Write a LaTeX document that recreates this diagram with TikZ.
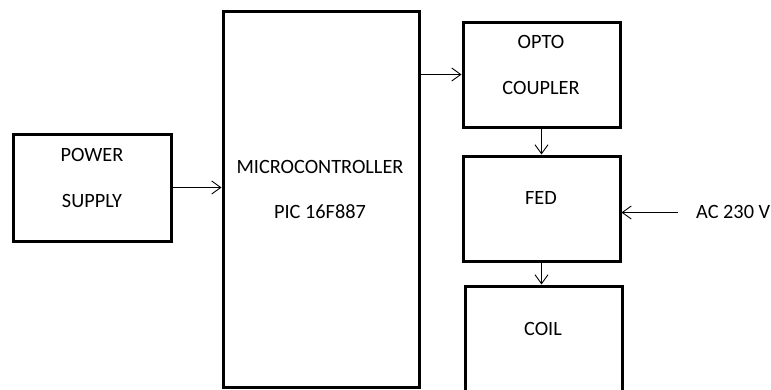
\documentclass[tikz,border=0pt]{standalone}
\usepackage{fontspec}
\setmainfont{Carlito}
\usetikzlibrary{arrows.meta}
\begin{document}
\begin{tikzpicture}[x=1pt,y=-1pt,
  box/.style={draw, line width=3pt, inner sep=0pt},
  lbl/.style={font=\fontsize{20.3}{24}\selectfont, inner sep=0pt},
  conn/.style={line width=0.9pt, -{Straight Barb[length=9pt,width=13pt,line width=0.9pt]}}]
\useasboundingbox (0,0) rectangle (771,389);
\clip (0,0) rectangle (771,389);
% boxes
\node[box, minimum width=158pt, minimum height=107pt] (ps) at (92,187.5) {};
\node[box, minimum width=196pt, minimum height=376pt] (micro) at (321,199.5) {};
\node[box, minimum width=157pt, minimum height=105pt] (opto) at (541.5,74.5) {};
\node[box, minimum width=157pt, minimum height=105pt] (fed) at (541.5,208.5) {};
\node[box, minimum width=157pt, minimum height=108pt] (coil) at (543.5,340) {};
% texts
\node[lbl] (pst1) at (92,155) {POWER};
\node[lbl] (pst2) at (92,201) {SUPPLY};
\node[lbl] (mt1) at (320,167) {MICROCONTROLLER};
\node[lbl] (mt2) at (320,212) {PIC 16F887};
\node[lbl] (ot1) at (541,42) {OPTO};
\node[lbl] (ot2) at (541,88) {COUPLER};
\node[lbl] (ft) at (541,198) {FED};
\node[lbl] (ct) at (543,329) {COIL};
\node[lbl, anchor=west] (ac) at (696,212) {AC 230 V};
\coordinate (acs) at (678,212.5);
% connectors
\draw[conn] (ps.east) -- (micro.west |- ps.east);
\draw[conn] (micro.east |- opto.west) -- (opto.west);
\draw[conn] (opto.south) -- (fed.north);
\draw[conn] (fed.south) -- (fed.south |- coil.north);
\draw[conn] (acs) -- (fed.east |- acs);
\end{tikzpicture}
\end{document}
